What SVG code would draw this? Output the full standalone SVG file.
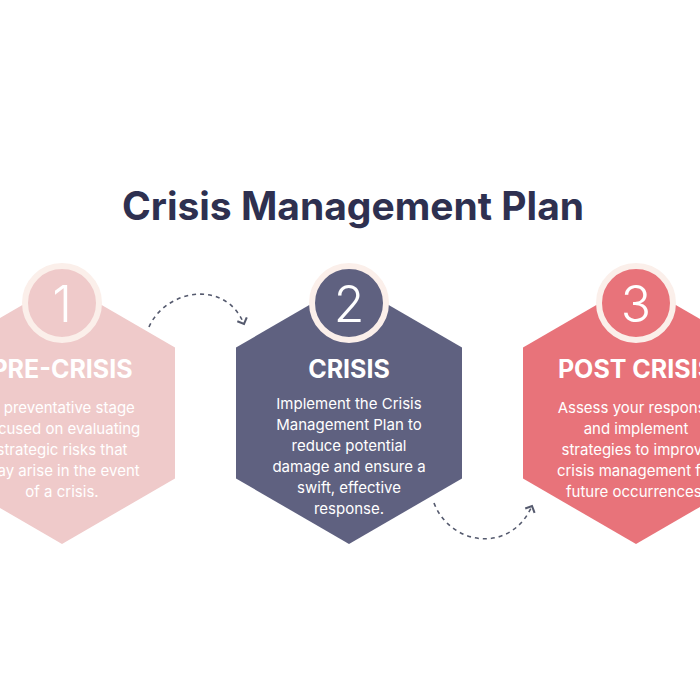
<svg xmlns="http://www.w3.org/2000/svg" width="700" height="700" viewBox="0 0 700 700">
<style>
.t{font-family:Inter,"Noto Sans",sans-serif;text-anchor:middle;fill:#fff}
.h{font-size:25px;font-weight:700}
.b{font-size:15px}
.n{font-family:Inter,"Noto Sans",sans-serif;font-size:50px;font-weight:300;fill:#fff;text-anchor:middle}
.ring{stroke:#fbefea;stroke-width:6}
.con{fill:none;stroke:#555a6e;stroke-width:1.6;stroke-dasharray:4 4}
</style>
<defs>
<marker id="ah" viewBox="0 0 10 10" refX="5" refY="5" markerWidth="8" markerHeight="8" orient="auto"><path d="M1,1 L5,5 L1,9" fill="none" stroke="#555a6e" stroke-width="1.6"/></marker>
<polygon id="hex" points="0,-131 113,-65.5 113,65.5 0,131 -113,65.5 -113,-65.5"/>
</defs>
<rect width="700" height="700" fill="#fff"/>
<text x="353" y="220" font-family="Inter,'Noto Sans',sans-serif" font-size="39" font-weight="700" fill="#2e3050" text-anchor="middle">Crisis Management Plan</text>
<g id="connectors">
<path class="con" d="M149,327 C165,290 225,278 244,324" marker-end="url(#ah)"/>
<path class="con" d="M434,503 C450,545 510,555 532,506" marker-end="url(#ah)"/>
</g>
<g id="n1">
<use href="#hex" x="62" y="413" fill="#efcaca"/>
<circle cx="62" cy="303" r="37" fill="#efcaca" class="ring"/>
<text class="n" x="62" y="322">1</text>
<text class="t h" x="62" y="378">PRE-CRISIS</text>
<text class="t b"><tspan x="62" y="413">A preventative stage</tspan><tspan x="62" y="434">focused on evaluating</tspan><tspan x="62" y="455">strategic risks that</tspan><tspan x="62" y="476">may arise in the event</tspan><tspan x="62" y="497">of a crisis.</tspan></text>
</g>
<g id="n2">
<use href="#hex" x="349" y="413" fill="#5f6180"/>
<circle cx="349" cy="303" r="37" fill="#5f6180" class="ring"/>
<text class="n" x="349" y="322">2</text>
<text class="t h" x="349" y="378">CRISIS</text>
<text class="t b"><tspan x="349" y="409">Implement the Crisis</tspan><tspan x="349" y="430">Management Plan to</tspan><tspan x="349" y="451">reduce potential</tspan><tspan x="349" y="472">damage and ensure a</tspan><tspan x="349" y="493">swift, effective</tspan><tspan x="349" y="514">response.</tspan></text>
</g>
<g id="n3">
<use href="#hex" x="636" y="413" fill="#e8737a"/>
<circle cx="636" cy="303" r="37" fill="#e8737a" class="ring"/>
<text class="n" x="636" y="322">3</text>
<text class="t h" x="636" y="378">POST CRISIS</text>
<text class="t b"><tspan x="636" y="413">Assess your response</tspan><tspan x="636" y="434">and implement</tspan><tspan x="636" y="455">strategies to improve</tspan><tspan x="636" y="476">crisis management for</tspan><tspan x="636" y="497">future occurrences.</tspan></text>
</g>
</svg>
